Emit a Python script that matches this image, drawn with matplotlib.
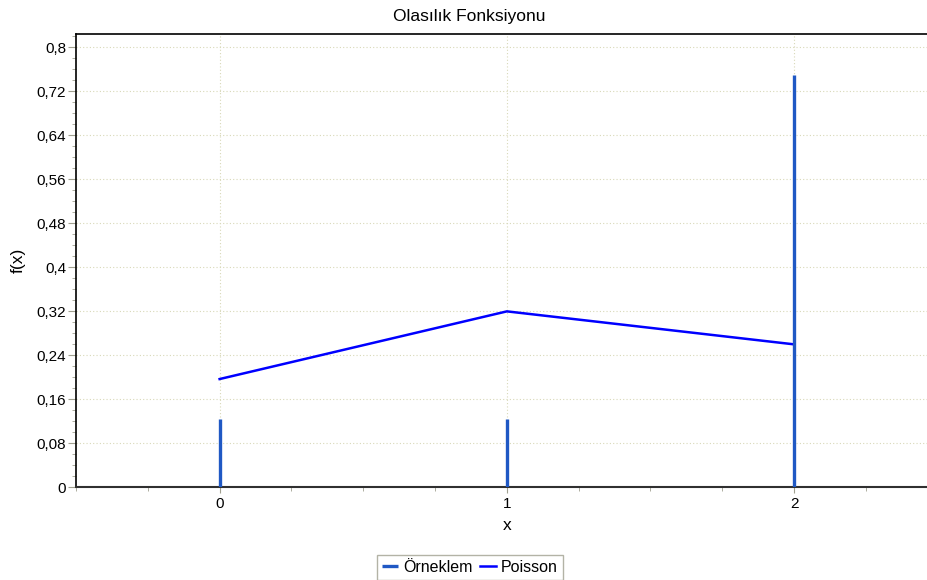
import numpy as np
import matplotlib
matplotlib.use("Agg")
import matplotlib.pyplot as plt
from matplotlib.ticker import MultipleLocator, FuncFormatter

plt.rcParams['font.family'] = ['Liberation Sans', 'DejaVu Sans']

# olasilik degerleri
x_vals = [0, 1, 2]
orneklem = [0.125, 0.125, 0.75]
poisson = [0.1969, 0.3200, 0.2600]

fig = plt.figure(figsize=(9.28, 5.8), dpi=100)
ax = fig.add_axes([76 / 928, 92.7 / 580, (937.75 - 76) / 928, (487.3 - 34) / 580])

ax.vlines(x_vals, 0, orneklem, color='#1f58c4', linewidth=2.4, label='Örneklem', zorder=4)
ax.plot(x_vals, poisson, color='#0000ff', linewidth=1.8, label='Poisson', zorder=3)

ax.set_xlim(-0.5, 2.5)
ax.set_ylim(0, 0.8245)

ax.xaxis.set_major_locator(MultipleLocator(1))
ax.xaxis.set_minor_locator(MultipleLocator(0.25))
ax.yaxis.set_major_locator(MultipleLocator(0.08))
ax.yaxis.set_minor_locator(MultipleLocator(0.02))

def virgul(v, pos):
    s = ('%.2f' % v).rstrip('0').rstrip('.')
    return s.replace('.', ',')

ax.yaxis.set_major_formatter(FuncFormatter(virgul))
ax.xaxis.set_major_formatter(FuncFormatter(lambda v, p: '%d' % round(v)))

ax.tick_params(axis='both', which='both', direction='out', color='#a0a090', labelsize=11)
ax.tick_params(axis='y', which='major', length=6, pad=1)
ax.tick_params(axis='y', which='minor', length=3)
ax.tick_params(axis='x', which='major', length=4, pad=3)
ax.tick_params(axis='x', which='minor', length=3)
ax.tick_params(axis='x', which='both', top=False)

ax.grid(True, which='major', linestyle=(0, (1, 2)), color='#d8d8b8', linewidth=0.8)

for side in ('top', 'left'):
    ax.spines[side].set_color('black')
    ax.spines[side].set_linewidth(1.2)
ax.spines['right'].set_visible(False)
ax.spines['bottom'].set_linestyle((0, (1, 1)))
ax.spines['bottom'].set_linewidth(1.5)
ax.spines['bottom'].set_color('#303030')

ax.set_xlabel('x', fontsize=12.5, labelpad=5)
ax.set_ylabel('f(x)', fontsize=12.5, labelpad=8)
fig.text(469 / 928, 1 - 17 / 580, 'Olasılık Fonksiyonu', ha='center', va='center', fontsize=12.5)

leg = ax.legend(loc='upper center', bbox_to_anchor=(470 / 928, 1 - 555 / 580),
                bbox_transform=fig.transFigure, ncol=2, fancybox=False,
                frameon=True, fontsize=11.5, handlelength=1.0, handletextpad=0.3,
                columnspacing=0.5, borderpad=0.3, borderaxespad=0)
leg.get_frame().set_edgecolor('#a0a090')
leg.get_frame().set_linewidth(1.0)

fig.savefig('out.png', dpi=100)
